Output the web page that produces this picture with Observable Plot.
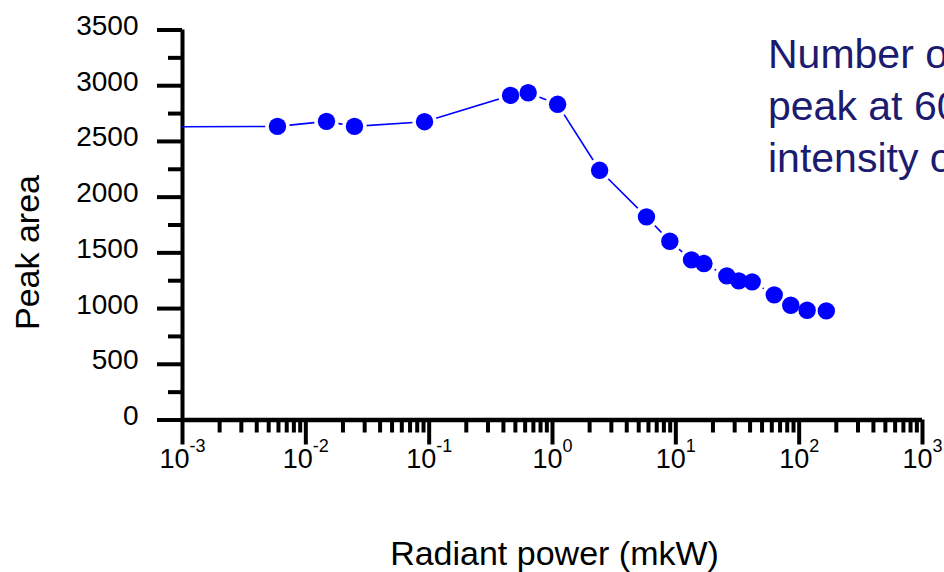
<!DOCTYPE html>
<html><head><meta charset="utf-8">
<script src="https://cdn.jsdelivr.net/npm/d3@7"></script>
<script src="https://cdn.jsdelivr.net/npm/@observablehq/plot@0.6"></script>
<style>
html,body{margin:0;padding:0;background:#fff;overflow:hidden;}
#wrap{position:relative;width:944px;height:572px;overflow:hidden;}
#note{position:absolute;left:768px;top:28px;font:41px/52px "Liberation Sans",Arial,sans-serif;color:#1b1b6f;white-space:nowrap;}
</style></head><body>
<div id="wrap"><div id="chart"></div><div id="note">Number of<br>peak at 60<br>intensity of</div></div>
<script>
// Radiant power (mkW) and peak area
const power = [0.00589, 0.0147, 0.0248, 0.0917, 0.457, 0.635, 1.10, 2.41, 5.78, 8.94, 13.4, 16.9, 25.9, 32.4, 41.6, 62.8, 85.5, 116, 166];
const peakArea = [2635, 2680, 2635, 2677, 2913, 2937, 2833, 2241, 1823, 1604, 1437, 1404, 1293, 1249, 1240, 1123, 1030, 985, 979];
// the connecting line starts at the left edge of the axis
const lineStartPower = 0.001;
const lineStartArea = 2632;

const yMajorTicks = [0, 500, 1000, 1500, 2000, 2500, 3000, 3500];
const yMinorTicks = [250, 750, 1250, 1750, 2250, 2750, 3250];
const xMajorTicks = [1e-3, 1e-2, 1e-1, 1, 10, 100, 1000];
const xMinorTicks = xMajorTicks.slice(0, -1).flatMap(d => [2,3,4,5,6,7,8,9].map(k => k * d));
const xTitle = "Radiant power (mkW)";
const yTitle = "Peak area";

const points = power.map((p, i) => ({p, a: peakArea[i]}));
const linePts = [{p: lineStartPower, a: lineStartArea}, ...points];

const blue = "#0000ff";
const chart = Plot.plot({
  width: 944, height: 572,
  marginLeft: 182, marginRight: 22, marginTop: 29.5, marginBottom: 152.5,
  style: {fontFamily: '"Liberation Sans", Arial, sans-serif', background: "white", color: "black", overflow: "visible"},
  x: {type: "log", domain: [1e-3, 1e3], axis: null},
  y: {domain: [0, 3500], axis: null},
  marks: [
    Plot.ruleX([1e-3], {strokeWidth: 4}),
    Plot.ruleY([0], {strokeWidth: 4.5}),
    Plot.axisY(yMajorTicks, {anchor: "left", tickSize: 25, strokeWidth: 4, fill: "none", label: null}),
    Plot.axisY(yMinorTicks, {anchor: "left", tickSize: 14, strokeWidth: 4, fill: "none", label: null}),
    Plot.axisY(yMajorTicks, {anchor: "left", tickSize: 25, tickPadding: 19, stroke: "none", fontSize: 28, dy: -4, tickFormat: d => String(d), label: null}),
    Plot.axisX(xMajorTicks, {anchor: "bottom", tickSize: 25, strokeWidth: 4, fill: "none", label: null}),
    Plot.axisX(xMinorTicks, {anchor: "bottom", tickSize: 13, strokeWidth: 4, fill: "none", label: null}),
    Plot.axisX(xMajorTicks, {anchor: "bottom", tickSize: 25, tickPadding: 4, stroke: "none", fontSize: 27, tickFormat: d => "10^" + Math.round(Math.log10(d)), label: null}),
    Plot.text([xTitle], {text: d => d, frameAnchor: "bottom", textAnchor: "middle", dx: 2, dy: 145, fontSize: 34}),
    Plot.text([yTitle], {text: d => d, frameAnchor: "left", textAnchor: "middle", rotate: -90, dx: -154, dy: 27.5, fontSize: 34}),
    Plot.line(linePts, {x: "p", y: "a", stroke: blue, strokeWidth: 1.6}),
    Plot.dot(points, {x: "p", y: "a", r: 12.2, fill: "white"}),
    Plot.dot(points, {x: "p", y: "a", r: 8.7, fill: blue})
  ]
});

// superscript exponents on the x tick labels
d3.select(chart).selectAll('g[aria-label="x-axis tick label"] text').each(function () {
  const t = d3.select(this);
  const s = t.text();
  if (!s.includes("^")) return;
  const [b, e] = s.split("^");
  t.text(null);
  t.append("tspan").text(b);
  t.append("tspan").attr("dy", -16).attr("font-size", 18).text(e);
});

document.getElementById("chart").appendChild(chart);
</script>
</body></html>
